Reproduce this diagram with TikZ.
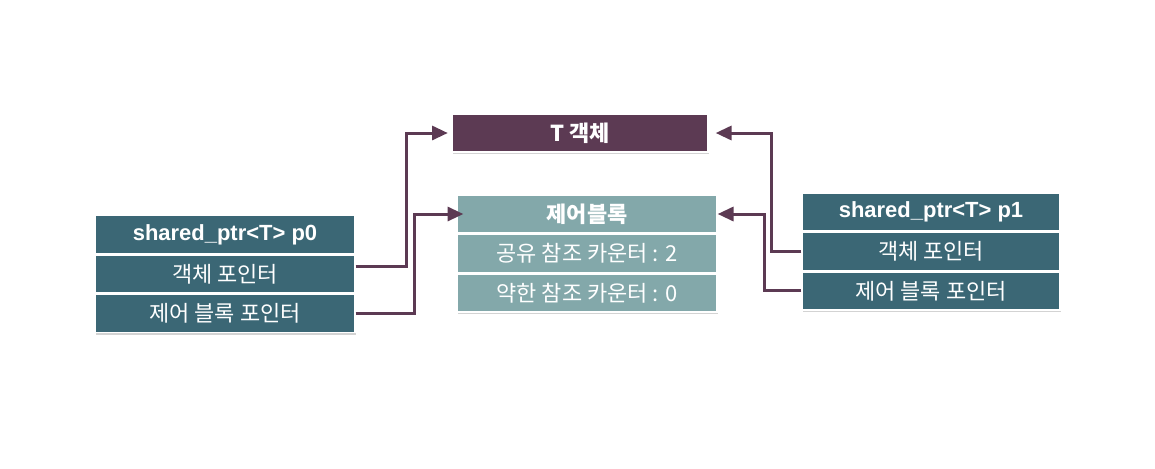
\documentclass[tikz,border=0pt]{standalone}
\usepackage{fontspec}
\setmainfont{Noto Sans CJK KR}
\newfontfamily\latinsans{Liberation Sans}
\usetikzlibrary{positioning, arrows.meta, shadows}

\definecolor{ptrteal}{HTML}{3B6775}
\definecolor{objplum}{HTML}{5C3A53}
\definecolor{ctrlsage}{HTML}{83A8AA}

\begin{document}
\begin{tikzpicture}[
  x=0.02cm, y=-0.02cm,
  cell/.style={
    rectangle,
    draw=white,
    line width=0.8pt,
    align=center,
    minimum height=0.76cm,
    minimum width=5.2cm,
    text=white,
    font=\fontsize{12.5}{14}\selectfont,
    inner sep=0pt
  },
  ptrcell/.style={cell, fill=ptrteal},
  ptrhead/.style={ptrcell, font=\fontsize{12.5}{14}\selectfont\latinsans\bfseries},
  ctrlcell/.style={cell, fill=ctrlsage},
  ctrlhead/.style={ctrlcell, font=\fontsize{12.5}{14}\selectfont\bfseries},
  objbox/.style={cell, fill=objplum, minimum width=5.12cm, font=\fontsize{12.5}{14}\selectfont\bfseries},
  shade/.style={drop shadow={opacity=0.35, shadow xshift=0.8pt, shadow yshift=-1.4pt}},
  arrow/.style={-{Triangle[length=9pt, width=8pt]}, line width=1.7pt, draw=objplum},
  node distance=0pt
]

\useasboundingbox (0,0) rectangle (1155,468);

% left pointer
\node[ptrhead, shade] (p0head) at (225,234.5) {shared\_ptr<T> p0};
\node[ptrcell, shade, below=of p0head] (p0obj) {객체 포인터};
\node[ptrcell, shade, below=of p0obj] (p0ctrl) {제어 블록 포인터};

% object and control block
\node[objbox, shade] (tobj) at (580,133) {T 객체};
\node[ctrlhead, shade] (ctrlhead) at (587,214) {제어블록};
\node[ctrlcell, shade, below=of ctrlhead] (ctrlshared) {공유 참조 카운터 : 2};
\node[ctrlcell, shade, below=of ctrlshared] (ctrlweak) {약한 참조 카운터 : 0};

% right pointer
\node[ptrhead, shade, minimum width=5.16cm] (p1head) at (931,212) {shared\_ptr<T> p1};
\node[ptrcell, shade, minimum width=5.16cm, below=of p1head] (p1obj) {객체 포인터};
\node[ptrcell, shade, minimum width=5.16cm, below=of p1obj] (p1ctrl) {제어 블록 포인터};

\draw[arrow] ([yshift=0.14cm]p0obj.east) -- ++(51,0) |- ([xshift=-2pt]tobj.west);
\draw[arrow] (p0ctrl.east) -- ++(59,0) |- ([xshift=4pt]ctrlhead.west);
\draw[arrow] (p1obj.west) -- ++(-30,0) |- ([xshift=4pt]tobj.east);
\draw[arrow] (p1ctrl.west) -- ++(-37,0) |- (ctrlhead.east);

\end{tikzpicture}
\end{document}
